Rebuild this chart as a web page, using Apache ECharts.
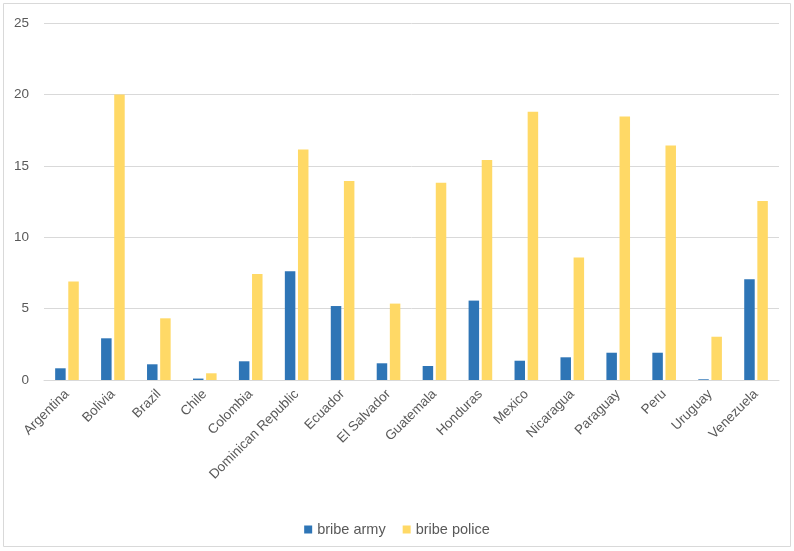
<!DOCTYPE html>
<html>
<head>
<meta charset="utf-8">
<script src="https://cdn.jsdelivr.net/npm/echarts@6/dist/echarts.min.js"></script>
<style>
html,body{margin:0;padding:0;background:#fff;}
#c{width:794px;height:551px;}
</style>
</head>
<body>
<div id="c"></div>
<script>
const categories = ["Argentina","Bolivia","Brazil","Chile","Colombia","Dominican Republic","Ecuador","El Salvador","Guatemala","Honduras","Mexico","Nicaragua","Paraguay","Peru","Uruguay","Venezuela"];
const bribeArmy = [0.82, 2.92, 1.1, 0.1, 1.31, 7.61, 5.18, 1.17, 0.98, 5.56, 1.35, 1.59, 1.91, 1.91, 0.05, 7.05];
const bribePolice = [6.9, 20.0, 4.32, 0.47, 7.42, 16.15, 13.94, 5.35, 13.82, 15.4, 18.79, 8.57, 18.46, 16.43, 3.03, 12.53];
const yTicks = [0, 5, 10, 15, 20, 25];

const chart = echarts.init(document.getElementById('c'));
const font = "'Liberation Sans', Arial, sans-serif";
chart.setOption({
  animation: false,
  textStyle: {fontFamily: font},
  graphic: [{
    type: 'rect', shape: {x: 3.5, y: 3.5, width: 787, height: 543},
    style: {fill: 'none', stroke: '#d9d9d9', lineWidth: 1}, silent: true
  }],
  grid: {left: 44, right: 15, top: 23, bottom: 171, containLabel: false},
  legend: {
    top: 517, left: 'center',
    itemWidth: 8, itemHeight: 8, itemGap: 17,
    icon: 'rect',
    textStyle: {color: '#595959', fontSize: 14.5, fontFamily: font},
    data: ['bribe army', 'bribe police']
  },
  xAxis: {
    type: 'category', data: categories,
    axisLine: {lineStyle: {color: '#d9d9d9'}},
    axisTick: {show: false},
    axisLabel: {rotate: 45, color: '#595959', fontSize: 13.5, margin: 12, interval: 0, fontFamily: font}
  },
  yAxis: {
    type: 'value', min: yTicks[0], max: yTicks[yTicks.length - 1], interval: 5,
    axisLine: {show: false}, axisTick: {show: false},
    splitLine: {lineStyle: {color: '#d9d9d9'}},
    axisLabel: {color: '#595959', fontSize: 13.5, margin: 15, fontFamily: font}
  },
  series: [
    {name: 'bribe army', type: 'bar', data: bribeArmy, barWidth: 10.5, barGap: '25%',
     itemStyle: {color: '#2e75b6'}},
    {name: 'bribe police', type: 'bar', data: bribePolice, barWidth: 10.5,
     itemStyle: {color: '#ffd966'}}
  ]
});
</script>
</body>
</html>
